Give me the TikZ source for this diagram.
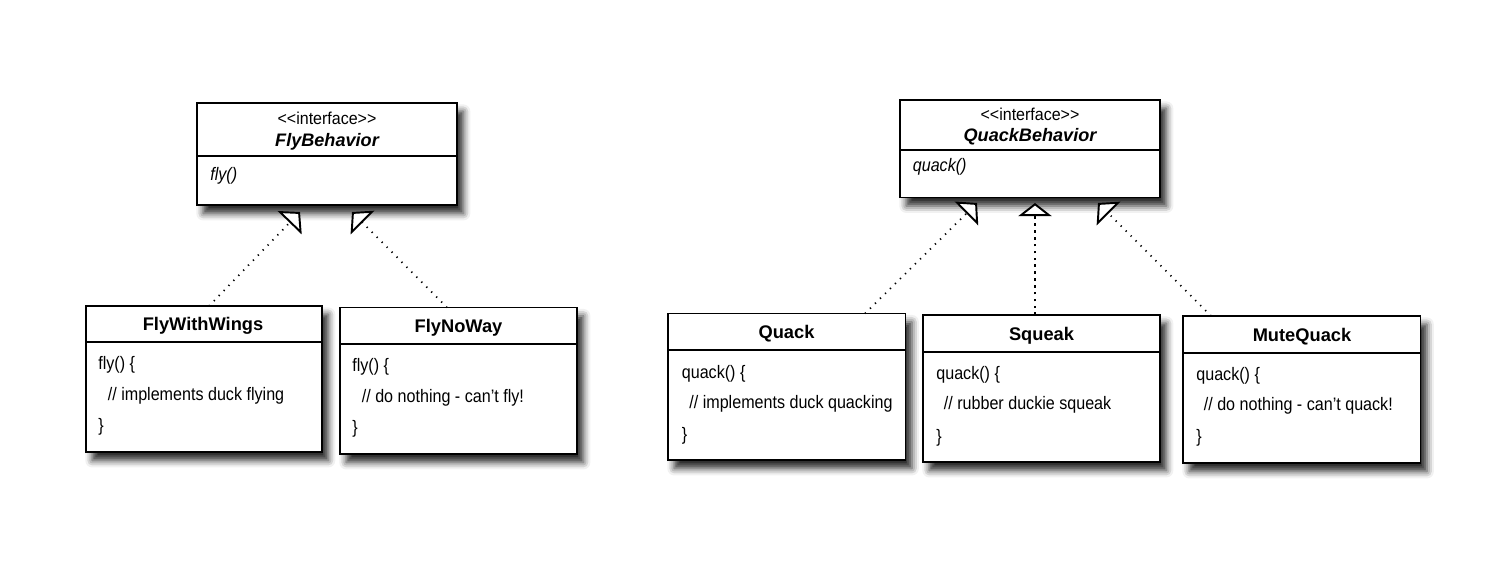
\documentclass[tikz,border=0pt]{standalone}
\usepackage{fontspec}
\setmainfont{Liberation Sans}
\newfontfamily\condfont{Liberation Sans}[FakeStretch=0.89]
\newfontfamily\stereofont{Liberation Sans}[FakeStretch=0.93]
\usetikzlibrary{arrows.meta,shadows.blur,fit}
\begin{document}
\begin{tikzpicture}[x=0.02cm,y=-0.02cm,
  box/.style={draw, line width=0.75pt, fill=white, inner sep=0pt,
    blur shadow={shadow xshift=3.6pt, shadow yshift=-4.8pt, shadow blur radius=4pt, shadow opacity=85}},
  ttl/.style={font=\fontsize{10.4}{12}\selectfont\bfseries, inner sep=0pt, text height=7.6pt, text depth=2.2pt},
  ittl/.style={font=\fontsize{10.3}{12}\selectfont\bfseries\itshape, inner sep=0pt, text height=7.5pt, text depth=2.2pt},
  stereo/.style={font=\stereofont\fontsize{9.8}{11}\selectfont, inner sep=0pt, text height=7.2pt, text depth=2pt},
  body/.style={font=\condfont\fontsize{10.3}{12}\selectfont, anchor=west, inner sep=0pt, text height=7.7pt, text depth=2.2pt},
  ibody/.style={body, font=\condfont\fontsize{10.3}{12}\selectfont\itshape},
  divthin/.style={line width=0.6pt},
  divthick/.style={line width=1.2pt},
  impl/.style={line width=1pt, dash pattern=on 0.7pt off 3.3pt,
    -{Triangle[open, fill=white, length=8.5pt, width=19pt, line width=1.1pt]}},
  implbold/.style={line width=1.6pt, dash pattern=on 1.5pt off 2.4pt,
    -{Triangle[open, fill=white, length=7.5pt, width=19pt, line width=1.1pt]}}
]
\useasboundingbox (0,0) rectangle (1504,568);

% ---------- FlyBehavior ----------
\node[box, fit={(197,103) (457,205)}] (fb) {};
\draw[divthin] (197,156) -- (457,156);
\node[stereo] (fbs) at (327,120) {<\kern0pt<interface>\kern0pt>};
\node[ittl] (fbn) at (327,141.5) {FlyBehavior};
\node[ibody] (fbm) at (210,175.5) {fly()};

% ---------- FlyWithWings ----------
\node[box, fit={(86,306) (322,452)}] (fww) {};
\draw[divthick] (86,342) -- (322,342);
\node[ttl] (fwwn) at (203,326) {FlyWithWings};
\node[body] (fww1) at (98,365) {fly() \{};
\node[body] (fww2) at (107.5,395.5) {// implements duck flying};
\node[body] (fww3) at (98,427) {\}};

% ---------- FlyNoWay ----------
\node[box, fit={(340,307.5) (577,454)}] (fnw) {};
\draw[divthick] (340,344) -- (577,344);
\node[ttl] (fnwn) at (458.5,327.5) {FlyNoWay};
\node[body] (fnw1) at (352,367) {fly() \{};
\node[body] (fnw2) at (361.5,397.5) {// do nothing - can’t fly!};
\node[body] (fnw3) at (352,429) {\}};

% ---------- QuackBehavior ----------
\node[box, fit={(900,100) (1160,197.5)}] (qb) {};
\draw[divthin] (900,150) -- (1160,150);
\node[stereo] (qbs) at (1030,115.5) {<\kern0pt<interface>\kern0pt>};
\node[ittl] (qbn) at (1030,136.5) {QuackBehavior};
\node[ibody] (qbm) at (912.5,167) {quack()};

% ---------- Quack ----------
\node[box, fit={(668,313.5) (905.5,460)}] (qk) {};
\draw[divthick] (668,350) -- (905.5,350);
\node[ttl] (qkn) at (786.5,334) {Quack};
\node[body] (qk1) at (681.5,373.5) {quack() \{};
\node[body] (qk2) at (689,403.5) {// implements duck quacking};
\node[body] (qk3) at (681.5,436) {\}};

% ---------- Squeak ----------
\node[box, fit={(923,315) (1160,462)}] (sq) {};
\draw[divthick] (923,352) -- (1160,352);
\node[ttl] (sqn) at (1041.5,335.5) {Squeak};
\node[body] (sq1) at (936,374.5) {quack() \{};
\node[body] (sq2) at (943.5,405) {// rubber duckie squeak};
\node[body] (sq3) at (936,437.5) {\}};

% ---------- MuteQuack ----------
\node[box, fit={(1183,316) (1420.5,463)}] (mq) {};
\draw[divthick] (1183,353) -- (1420.5,353);
\node[ttl] (mqn) at (1302,336.5) {MuteQuack};
\node[body] (mq1) at (1196,375.5) {quack() \{};
\node[body] (mq2) at (1203.5,406) {// do nothing - can’t quack!};
\node[body] (mq3) at (1196,438) {\}};

% ---------- realization connectors ----------
\coordinate (t1) at (300,212);
\coordinate (t2) at (352,212);
\coordinate (t3) at (977,203);
\coordinate (t4) at (1035,203);
\coordinate (t5) at (1098,203);
\coordinate (s1) at (209,306);
\coordinate (s2) at (447,307.5);
\coordinate (s3) at (865,313.5);
\coordinate (s4) at (1035,315);
\coordinate (s5) at (1211,316);

\draw[impl] (s1) -- (t1);
\draw[impl] (s2) -- (t2);
\draw[impl] (s3) -- (t3);
\draw[implbold] (s4) -- (t4);
\draw[impl] (s5) -- (t5);
\end{tikzpicture}
\end{document}
